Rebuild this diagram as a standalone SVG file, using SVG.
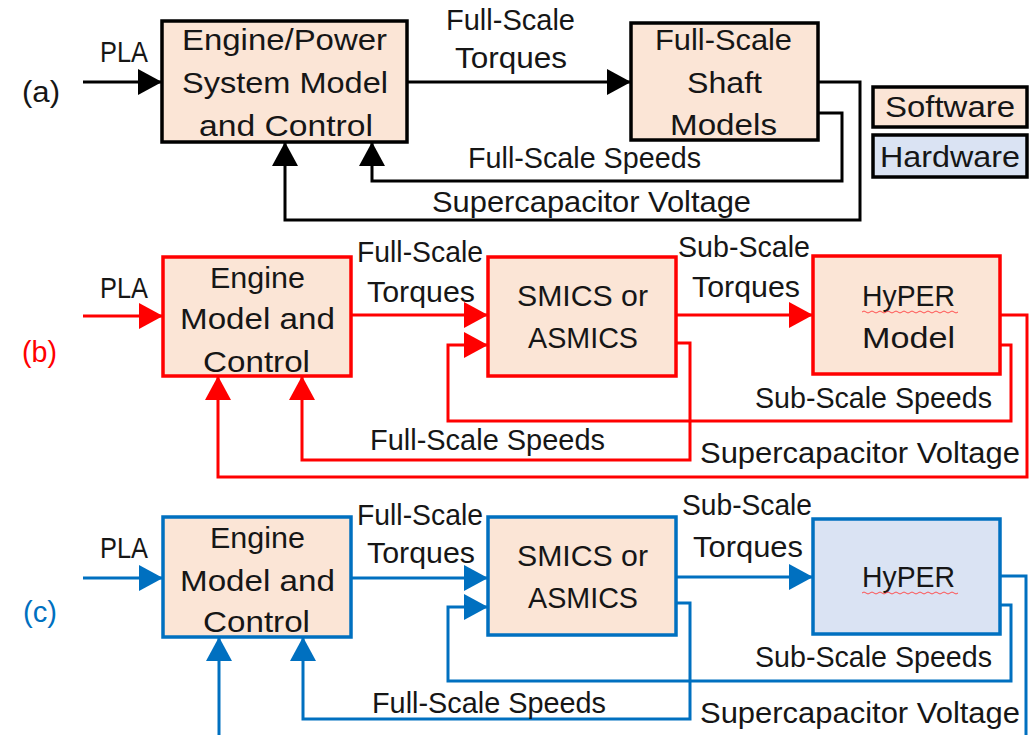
<svg xmlns="http://www.w3.org/2000/svg" width="1033" height="735" viewBox="0 0 1033 735">
<style>
text{font-family:"Liberation Sans",Arial,sans-serif;font-size:30px;fill:#161616}
.sw{fill:#FBE5D6}
.hw{fill:#DAE3F3}
.k{stroke:#000;stroke-width:3.5}
.r{stroke:#FF0000;stroke-width:3.5}
.b{stroke:#0070C0;stroke-width:3.5}
.ck{fill:none;stroke:#000;stroke-width:3}
.cr{fill:none;stroke:#FF0000;stroke-width:3}
.cb{fill:none;stroke:#0070C0;stroke-width:3}
.sq{fill:none;stroke:#FF5050;stroke-width:1}
</style>
<defs>
<marker id="ak" markerUnits="userSpaceOnUse" markerWidth="25" markerHeight="26" refX="24" refY="13" orient="auto"><path d="M0,0 L24,13 L0,26 z" fill="#000"/></marker>
<marker id="ar" markerUnits="userSpaceOnUse" markerWidth="25" markerHeight="26" refX="24" refY="13" orient="auto"><path d="M0,0 L24,13 L0,26 z" fill="#FF0000"/></marker>
<marker id="ab" markerUnits="userSpaceOnUse" markerWidth="25" markerHeight="26" refX="24" refY="13" orient="auto"><path d="M0,0 L24,13 L0,26 z" fill="#0070C0"/></marker>
</defs>
<rect width="1033" height="735" fill="#fff"/>

<g id="labels-rows">
<text x="22" y="102" textLength="38" lengthAdjust="spacingAndGlyphs">(a)</text>
<text x="22" y="362" textLength="35" lengthAdjust="spacingAndGlyphs" style="fill:#FF0000">(b)</text>
<text x="23" y="622" textLength="34" lengthAdjust="spacingAndGlyphs" style="fill:#0070C0">(c)</text>
</g>

<!-- (a) nodes -->
<g id="a-engine">
<rect class="sw k" x="162" y="21" width="245" height="121"/>
<text x="182" y="50" textLength="205" lengthAdjust="spacingAndGlyphs">Engine/Power</text>
<text x="182" y="93" textLength="206" lengthAdjust="spacingAndGlyphs">System Model</text>
<text x="199" y="136" textLength="174" lengthAdjust="spacingAndGlyphs">and Control</text>
</g>
<g id="a-shaft">
<rect class="sw k" x="631" y="23" width="187" height="117"/>
<text x="655" y="50" textLength="137" lengthAdjust="spacingAndGlyphs">Full-Scale</text>
<text x="687" y="93" textLength="75" lengthAdjust="spacingAndGlyphs">Shaft</text>
<text x="670" y="135" textLength="107" lengthAdjust="spacingAndGlyphs">Models</text>
</g>
<g id="legend-software">
<rect class="sw k" x="873" y="87" width="154" height="40"/>
<text x="885" y="117" textLength="130" lengthAdjust="spacingAndGlyphs">Software</text>
</g>
<g id="legend-hardware">
<rect class="hw k" x="873" y="135" width="154" height="42"/>
<text x="880" y="167" textLength="140" lengthAdjust="spacingAndGlyphs">Hardware</text>
</g>

<!-- (b) nodes -->
<g id="b-engine">
<rect class="sw r" x="163" y="257" width="188" height="119"/>
<text x="210" y="288" textLength="95" lengthAdjust="spacingAndGlyphs">Engine</text>
<text x="180" y="329" textLength="155" lengthAdjust="spacingAndGlyphs">Model and</text>
<text x="203" y="372" textLength="107" lengthAdjust="spacingAndGlyphs">Control</text>
</g>
<g id="b-smics">
<rect class="sw r" x="488" y="257" width="188" height="119"/>
<text x="517" y="306" textLength="131" lengthAdjust="spacingAndGlyphs">SMICS or</text>
<text x="528" y="348" textLength="110" lengthAdjust="spacingAndGlyphs">ASMICS</text>
</g>
<g id="b-hyper">
<rect class="sw r" x="813" y="256" width="187" height="118"/>
<text x="862" y="306" textLength="93" lengthAdjust="spacingAndGlyphs">HyPER</text>
<path class="sq" d="M862,312 q2,-2 4,0 t4,0 t4,0 t4,0 t4,0 t4,0 t4,0 t4,0 t4,0 t4,0 t4,0 t4,0 t4,0 t4,0 t4,0 t4,0 t4,0 t4,0 t4,0 t4,0 t4,0 t4,0 t4,0 t4,0"/>
<text x="862" y="348" textLength="93" lengthAdjust="spacingAndGlyphs">Model</text>
</g>

<!-- (c) nodes -->
<g id="c-engine">
<rect class="sw b" x="163" y="517" width="188" height="120"/>
<text x="210" y="548" textLength="95" lengthAdjust="spacingAndGlyphs">Engine</text>
<text x="180" y="591" textLength="155" lengthAdjust="spacingAndGlyphs">Model and</text>
<text x="203" y="632" textLength="107" lengthAdjust="spacingAndGlyphs">Control</text>
</g>
<g id="c-smics">
<rect class="sw b" x="488" y="517" width="188" height="118"/>
<text x="517" y="566" textLength="131" lengthAdjust="spacingAndGlyphs">SMICS or</text>
<text x="528" y="608" textLength="110" lengthAdjust="spacingAndGlyphs">ASMICS</text>
</g>
<g id="c-hyper">
<rect class="hw b" x="813" y="519" width="187" height="115"/>
<text x="862" y="587" textLength="93" lengthAdjust="spacingAndGlyphs">HyPER</text>
<path class="sq" d="M862,593 q2,-2 4,0 t4,0 t4,0 t4,0 t4,0 t4,0 t4,0 t4,0 t4,0 t4,0 t4,0 t4,0 t4,0 t4,0 t4,0 t4,0 t4,0 t4,0 t4,0 t4,0 t4,0 t4,0 t4,0 t4,0"/>
</g>

<g id="connectors">
<!-- (a) -->
<path class="ck" d="M83,82 H162" marker-end="url(#ak)"/>
<path class="ck" d="M407,82 H631" marker-end="url(#ak)"/>
<path class="ck" d="M818,113 H842 V181 H372 V142" marker-end="url(#ak)"/>
<path class="ck" d="M818,82 H860 V220 H285 V142" marker-end="url(#ak)"/>
<!-- (b) -->
<path class="cr" d="M83,316 H163" marker-end="url(#ar)"/>
<path class="cr" d="M351,315 H488" marker-end="url(#ar)"/>
<path class="cr" d="M676,315 H813" marker-end="url(#ar)"/>
<path class="cr" d="M1000,345 H1011 V421 H448 V345 H488" marker-end="url(#ar)"/>
<path class="cr" d="M676,343 H690 V460 H302 V376" marker-end="url(#ar)"/>
<path class="cr" d="M1000,315 H1027 V477 H218 V376" marker-end="url(#ar)"/>
<!-- (c) -->
<path class="cb" d="M83,578 H163" marker-end="url(#ab)"/>
<path class="cb" d="M351,578 H488" marker-end="url(#ab)"/>
<path class="cb" d="M676,577 H813" marker-end="url(#ab)"/>
<path class="cb" d="M1000,605 H1011 V681 H448 V607 H488" marker-end="url(#ab)"/>
<path class="cb" d="M676,603 H690 V719 H303 V637" marker-end="url(#ab)"/>
<path class="cb" d="M1000,576 H1026 V740"/>
<path class="cb" d="M219,740 V637" marker-end="url(#ab)"/>
</g>

<g id="connector-labels">
<text x="100" y="62" textLength="48" lengthAdjust="spacingAndGlyphs">PLA</text>
<text x="446" y="30" textLength="129" lengthAdjust="spacingAndGlyphs">Full-Scale</text>
<text x="455" y="68" textLength="112" lengthAdjust="spacingAndGlyphs">Torques</text>
<text x="468" y="168" textLength="233" lengthAdjust="spacingAndGlyphs">Full-Scale Speeds</text>
<text x="432" y="212" textLength="319" lengthAdjust="spacingAndGlyphs">Supercapacitor Voltage</text>

<text x="100" y="298" textLength="48" lengthAdjust="spacingAndGlyphs">PLA</text>
<text x="357" y="262" textLength="126" lengthAdjust="spacingAndGlyphs">Full-Scale</text>
<text x="367" y="302" textLength="108" lengthAdjust="spacingAndGlyphs">Torques</text>
<text x="678" y="257" textLength="132" lengthAdjust="spacingAndGlyphs">Sub-Scale</text>
<text x="692" y="297" textLength="108" lengthAdjust="spacingAndGlyphs">Torques</text>
<text x="370" y="450" textLength="235" lengthAdjust="spacingAndGlyphs">Full-Scale Speeds</text>
<text x="755" y="408" textLength="237" lengthAdjust="spacingAndGlyphs">Sub-Scale Speeds</text>
<text x="700" y="463" textLength="320" lengthAdjust="spacingAndGlyphs">Supercapacitor Voltage</text>

<text x="100" y="558" textLength="48" lengthAdjust="spacingAndGlyphs">PLA</text>
<text x="357" y="525" textLength="126" lengthAdjust="spacingAndGlyphs">Full-Scale</text>
<text x="367" y="563" textLength="108" lengthAdjust="spacingAndGlyphs">Torques</text>
<text x="682" y="515" textLength="130" lengthAdjust="spacingAndGlyphs">Sub-Scale</text>
<text x="693" y="557" textLength="110" lengthAdjust="spacingAndGlyphs">Torques</text>
<text x="372" y="713" textLength="234" lengthAdjust="spacingAndGlyphs">Full-Scale Speeds</text>
<text x="755" y="667" textLength="237" lengthAdjust="spacingAndGlyphs">Sub-Scale Speeds</text>
<text x="700" y="723" textLength="320" lengthAdjust="spacingAndGlyphs">Supercapacitor Voltage</text>
</g>
</svg>
